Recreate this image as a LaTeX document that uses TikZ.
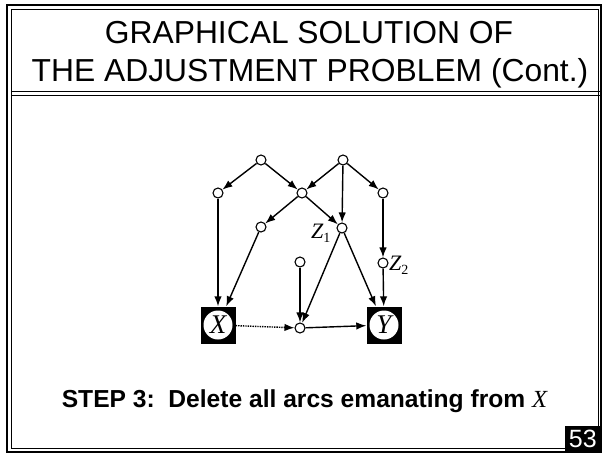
\documentclass[tikz,border=0pt]{standalone}
\usepackage{fontspec}
\setmainfont{Liberation Serif}
\setsansfont{Liberation Sans}
\newfontfamily\helv{Liberation Sans}
\usetikzlibrary{arrows.meta}
\begin{document}
\begin{tikzpicture}[x=1pt,y=-1pt,
  vtx/.style={circle,draw,line width=1.1pt,minimum size=10pt,inner sep=0pt,fill=white},
  boxnode/.style={rectangle,fill=black,minimum width=35pt,minimum height=37pt,inner sep=0pt},
  incircle/.style={circle,fill=white,minimum size=29pt,inner sep=0pt,font=\fontsize{27}{27}\selectfont\itshape},
  arc/.style={line width=1.4pt,-{Latex[length=10pt,width=7.5pt]}},
  dotarc/.style={line width=1.4pt,densely dotted,-{Latex[length=10pt,width=7.5pt]}},
  lbl/.style={inner sep=0pt,anchor=base west,font=\fontsize{22}{22}\selectfont\itshape},
  title/.style={inner sep=0pt,anchor=base,font=\helv\fontsize{31.8}{36}\selectfont}]
\useasboundingbox (0,0) rectangle (603,456);
% frame
\draw[line width=1.4pt] (7,5) rectangle (601,452);
\draw[line width=0.9pt] (11,9) rectangle (598,448);
\draw[line width=0.9pt] (11,91) -- (601,91);
\draw[line width=0.9pt] (11,95) -- (601,95);
% title
\node[title] (t1) at (309,43) {GRAPHICAL SOLUTION OF};
\node[title] (t2) at (310,81.5) {THE ADJUSTMENT PROBLEM (Cont.)};
% nodes
\node[vtx] (A) at (261,160) {};
\node[vtx] (B) at (343,160) {};
\node[vtx] (C) at (218,193) {};
\node[vtx] (D) at (302,193) {};
\node[vtx] (E) at (383,193) {};
\node[vtx] (F) at (261,227) {};
\node[vtx] (Z1) at (342,228) {};
\node[vtx] (G) at (300,262) {};
\node[vtx] (Z2) at (383,263) {};
\node[vtx] (M) at (300,328) {};
\node[boxnode] (Xb) at (218,325) {};
\node[incircle] (X) at (Xb) {X};
\node[boxnode] (Yb) at (384,325) {};
\node[incircle] (Y) at (Yb) {Y};
\node[lbl] (z1l) at (311,238) {Z\raisebox{-4pt}{\fontsize{14}{14}\selectfont\upshape 1}};
\node[lbl] (z2l) at (389,270) {Z\raisebox{-4pt}{\fontsize{14}{14}\selectfont\upshape 2}};
% arcs
\draw[arc] (A) -- (C);
\draw[arc] (A) -- (D);
\draw[arc] (B) -- (D);
\draw[arc] (B) -- (Z1);
\draw[arc] (B) -- (E);
\draw[arc] (D) -- (F);
\draw[arc] (D) -- (Z1);
\draw[arc] (E) -- (Z2);
\draw[arc] (C) -- (Xb);
\draw[arc] (F) -- (Xb);
\draw[arc] (Z1) -- (M);
\draw[arc] (Z1) -- (Yb);
\draw[arc] (G) -- (M);
\draw[arc] (Z2) -- (Yb);
\draw[dotarc] (Xb) -- (M);
\draw[arc] (M) -- (Yb);
% step text
\node[inner sep=0pt,anchor=base,font=\helv\bfseries\fontsize{24.6}{28}\selectfont] (step) at (304.5,407) {STEP 3:\ \ Delete all arcs emanating from {\rmfamily\mdseries\itshape X}};
% slide number
\node[rectangle,fill=black,minimum width=36pt,minimum height=26pt,inner sep=0pt,anchor=south east,text=white,font=\helv\fontsize{25}{25}\selectfont] (num) at (601,452) {53};
\end{tikzpicture}
\end{document}
